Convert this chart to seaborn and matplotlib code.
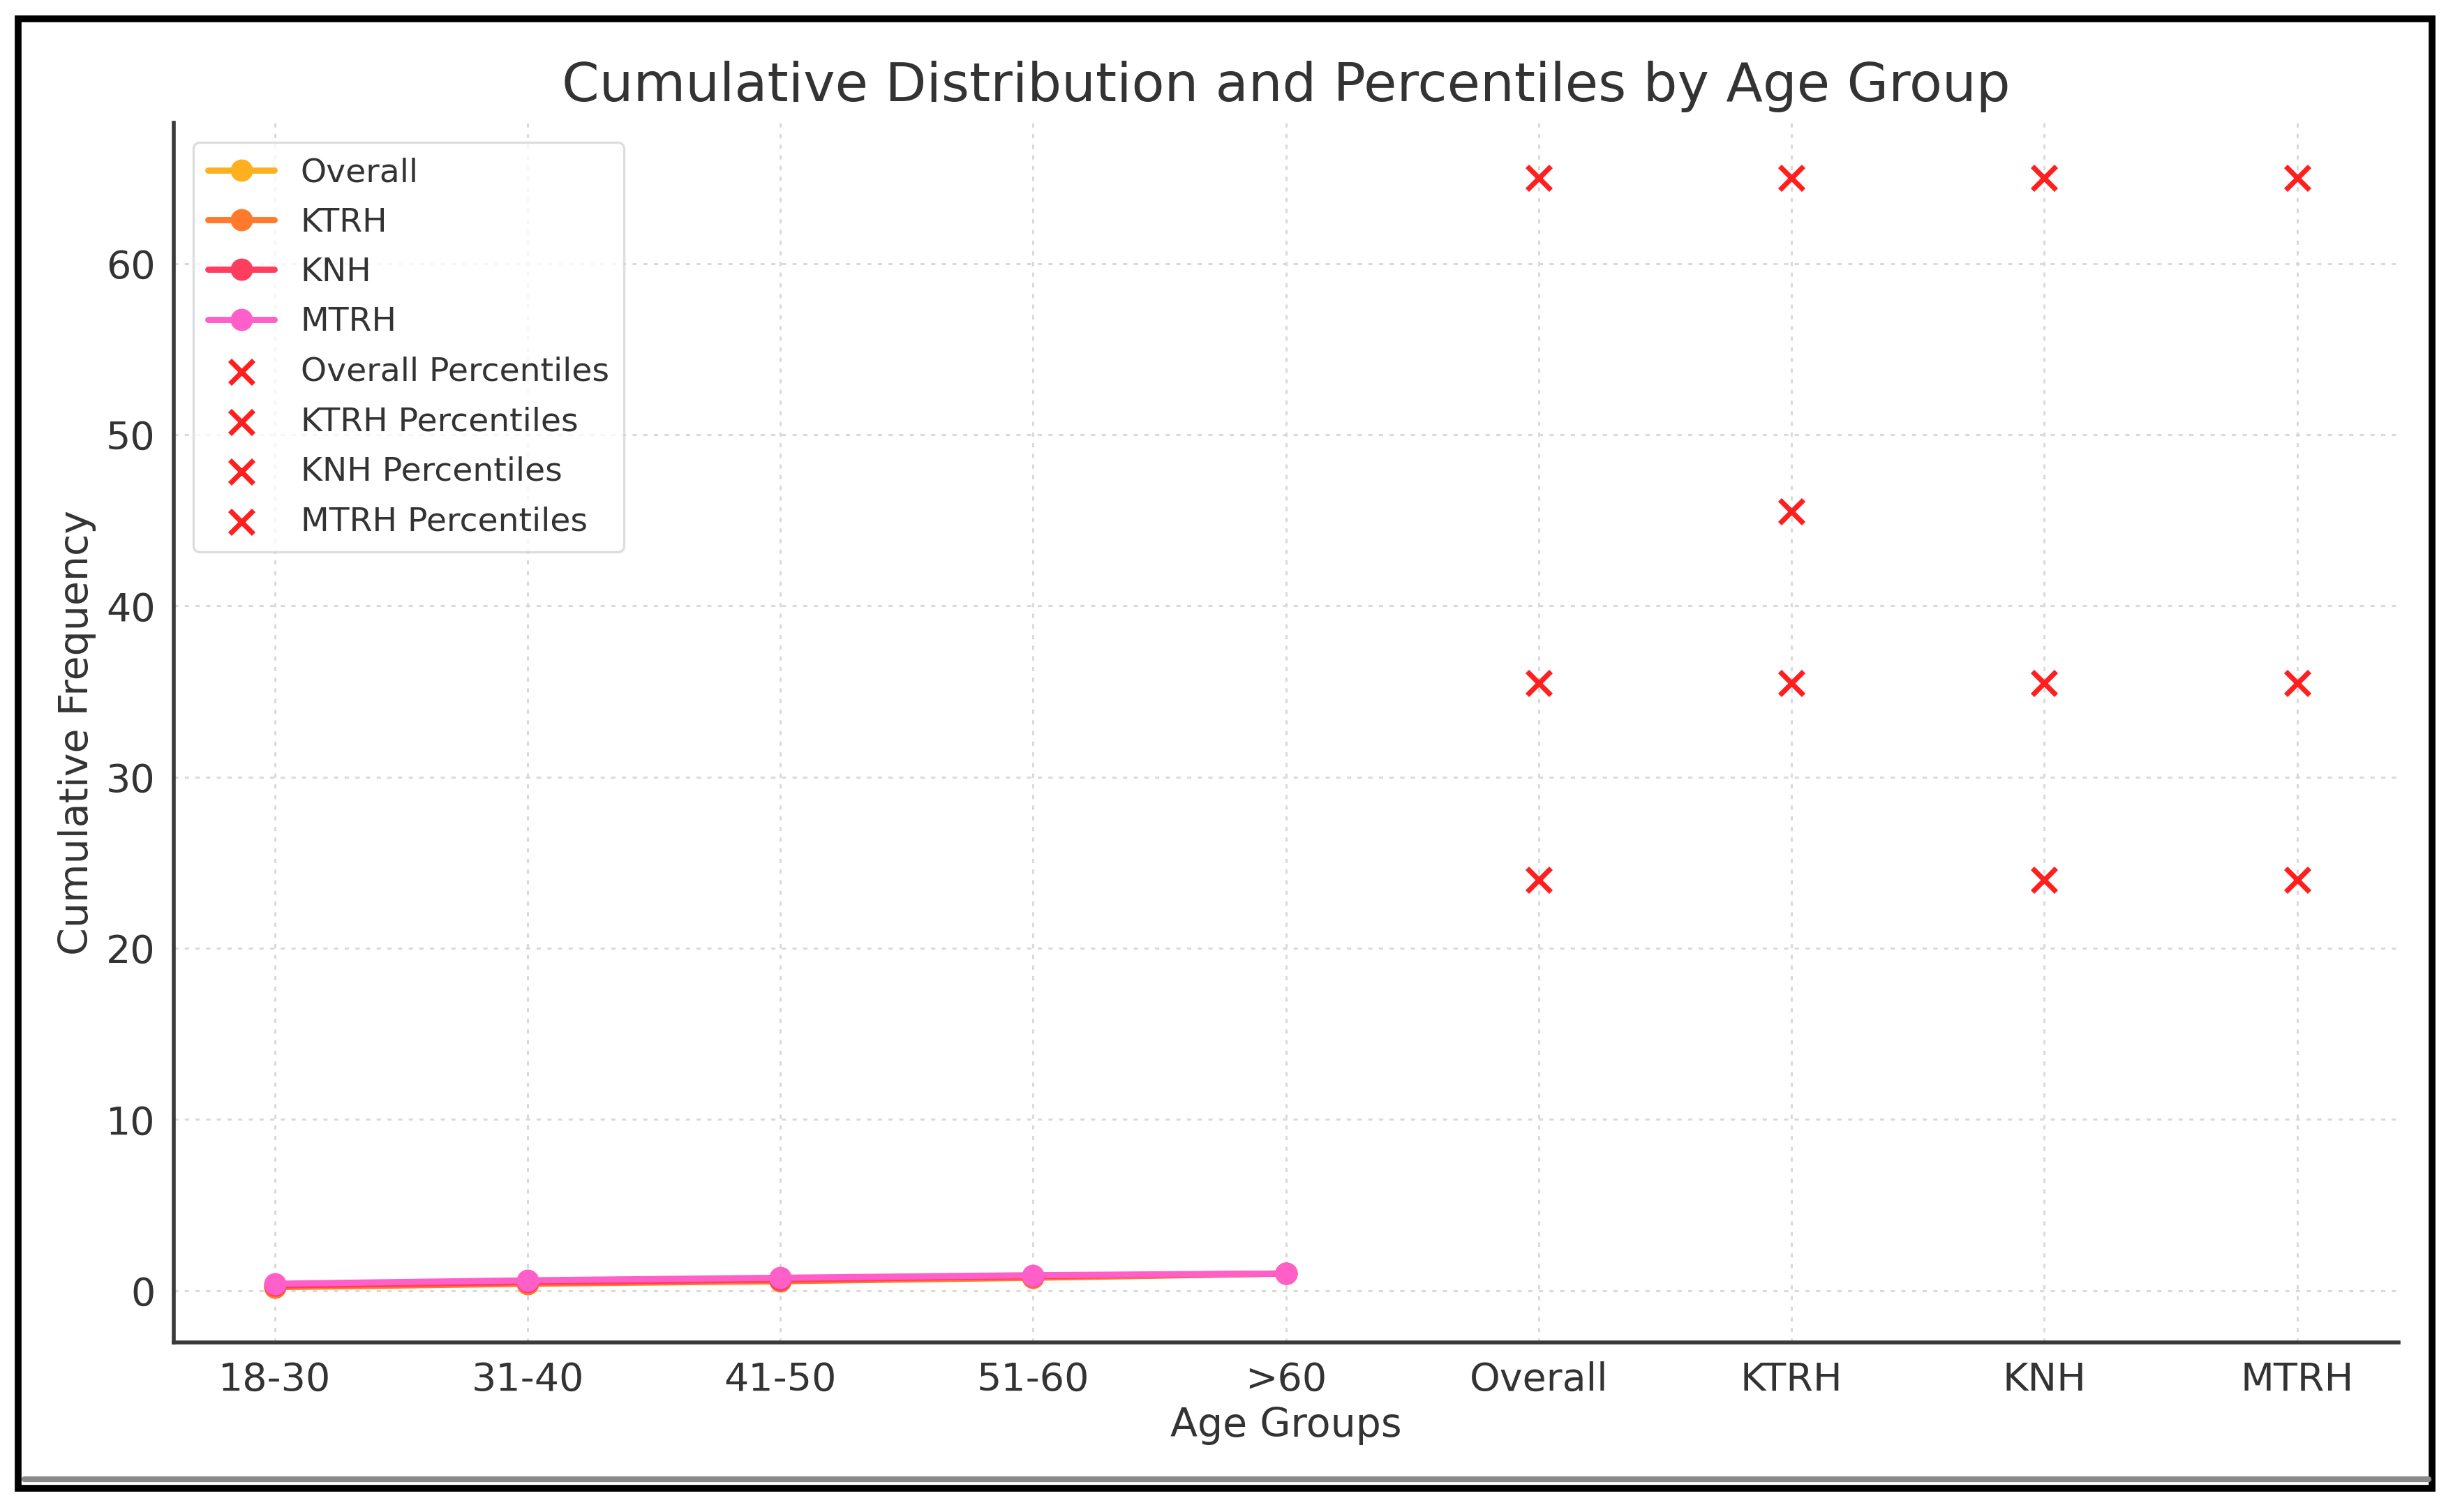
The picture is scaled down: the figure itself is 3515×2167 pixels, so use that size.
import matplotlib
matplotlib.use("Agg")
import matplotlib.pyplot as plt
import pandas as pd
import seaborn as sns
from matplotlib.patches import Rectangle
from matplotlib.lines import Line2D

# data
age_groups = ["18-30", "31-40", "41-50", "51-60", ">60"]
overall_cum = [0.25, 0.45, 0.60, 0.80, 1.00]
ktrh_cum = [0.20, 0.40, 0.55, 0.75, 1.00]
knh_cum = [0.30, 0.50, 0.65, 0.85, 1.00]
mtrh_cum = [0.40, 0.60, 0.75, 0.90, 1.00]

groups = ["Overall", "KTRH", "KNH", "MTRH"]
overall_pct = [24.0, 35.5, 65.0]
ktrh_pct = [35.5, 45.5, 65.0]
knh_pct = [24.0, 35.5, 65.0]
mtrh_pct = [24.0, 35.5, 65.0]

line_colors = ["#FFB01F", "#FF7A2B", "#FF3D5E", "#FF5FC8"]
text_color = "#333333"

sns.set_style("white")
plt.rcParams["font.family"] = ["DejaVu Sans"]
plt.rcParams["text.color"] = text_color
plt.rcParams["axes.labelcolor"] = text_color
plt.rcParams["xtick.color"] = text_color
plt.rcParams["ytick.color"] = text_color

fig = plt.figure(figsize=(17.575, 10.835), dpi=200)
ax = fig.add_axes([0.0708, 0.112, 0.9069, 0.807])

cum_series = [overall_cum, ktrh_cum, knh_cum, mtrh_cum]
for name, vals, col in zip(groups, cum_series, line_colors):
    d = pd.DataFrame({"age": age_groups, "cum": vals})
    sns.lineplot(data=d, x="age", y="cum", ax=ax, color=col, label=name,
                 marker="o", markersize=11.5, markeredgewidth=0,
                 linewidth=3.2, errorbar=None, sort=False)

pct_series = [overall_pct, ktrh_pct, knh_pct, mtrh_pct]
for name, vals in zip(groups, pct_series):
    d = pd.DataFrame({"grp": [name] * len(vals), "pct": vals})
    sns.scatterplot(data=d, x="grp", y="pct", ax=ax, color="#FF1F1F",
                    marker="x", s=150, linewidth=2.6,
                    label=f"{name} Percentiles")

ax.set_title("Cumulative Distribution and Percentiles by Age Group",
             fontsize=27.7, color=text_color, pad=11)
ax.set_xlabel("Age Groups", fontsize=20.5, labelpad=4)
ax.set_ylabel("Cumulative Frequency", fontsize=20.5, labelpad=5)
ax.tick_params(axis="both", labelsize=20, length=6, width=1.2, direction="out")
ax.set_yticks([0, 10, 20, 30, 40, 50, 60])

ax.grid(True, linestyle=(0, (2, 3)), color="#dadada", linewidth=1.1)
ax.set_axisbelow(True)
for side in ["top", "right"]:
    ax.spines[side].set_visible(False)
for side in ["left", "bottom"]:
    ax.spines[side].set_color("#3a3a3a")
    ax.spines[side].set_linewidth(2.0)

leg = ax.legend(loc="upper left", fontsize=17, frameon=True,
                borderaxespad=0.6, handlelength=2.0, labelspacing=0.56,
                borderpad=0.45, handletextpad=0.8)
leg.get_frame().set_edgecolor("#d5d5d5")
leg.get_frame().set_linewidth(1.2)

# screenshot frame around the picture
fig.add_artist(Line2D([0.010, 0.990], [0.0215, 0.0215], color="#8a8a8a",
                      linewidth=3.0, transform=fig.transFigure))
fig.add_artist(Rectangle((0.0075, 0.0155), 0.984, 0.972, fill=False,
                         edgecolor="black", linewidth=3.5,
                         transform=fig.transFigure))

fig.savefig("out.png", dpi=200, facecolor="white")
